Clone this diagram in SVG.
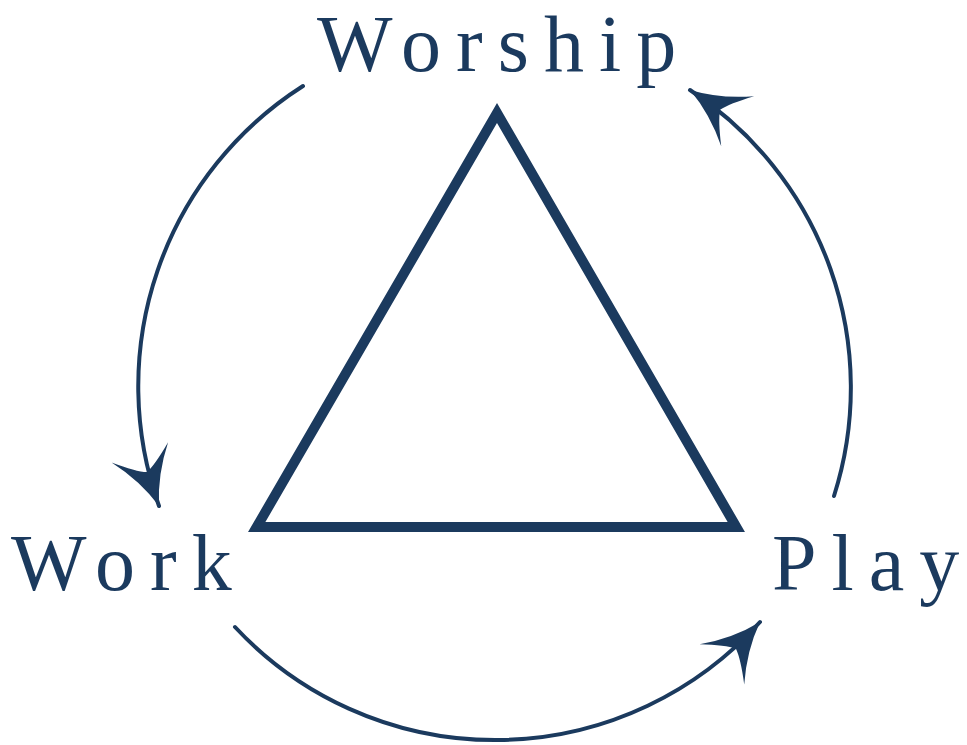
<svg xmlns="http://www.w3.org/2000/svg" width="967" height="745" viewBox="0 0 967 745">
  <style>
    .lbl { font-family: "Liberation Serif", "Times New Roman", serif; font-size: 80px; fill: #1b3a5e; }
    .arc { fill: none; stroke: #1b3a5e; stroke-width: 4; stroke-linecap: round; }
    .tri { fill: none; stroke: #1b3a5e; stroke-width: 10; stroke-linejoin: miter; stroke-miterlimit: 10; }
  </style>
  <defs>
    <marker id="head" markerUnits="userSpaceOnUse" orient="auto" markerWidth="80" markerHeight="80" refX="0" refY="0" viewBox="-70 -40 80 80" overflow="visible">
      <path d="M0,0 Q-30,-9 -57,-30 Q-40,-10 -36,0 Q-40,10 -57,30 Q-30,9 0,0 Z" fill="#1b3a5e"/>
    </marker>
  </defs>
  <rect width="967" height="745" fill="#ffffff"/>
  <g id="triangle">
    <polygon class="tri" points="497,113 256.7,527 736.3,527"/>
  </g>
  <g id="worship">
    <text class="lbl" x="317" y="71">W<tspan dx="15">o</tspan><tspan dx="15">r</tspan><tspan dx="15">s</tspan><tspan dx="15">h</tspan><tspan dx="15">i</tspan><tspan dx="15">p</tspan></text>
  </g>
  <g id="work">
    <text class="lbl" x="11" y="590">W<tspan dx="15">o</tspan><tspan dx="15">r</tspan><tspan dx="15">k</tspan></text>
  </g>
  <g id="play">
    <text class="lbl" x="772" y="590">P<tspan dx="15">l</tspan><tspan dx="15">a</tspan><tspan dx="15">y</tspan></text>
  </g>
  <g id="connectors">
    <path class="arc" d="M303,86 A356,356 0 0 0 159,506" marker-end="url(#head)"/>
    <path class="arc" d="M235,627 A356,356 0 0 0 760,622" marker-end="url(#head)"/>
    <path class="arc" d="M834,496 A356,356 0 0 0 690,90" marker-end="url(#head)"/>
  </g>
</svg>
